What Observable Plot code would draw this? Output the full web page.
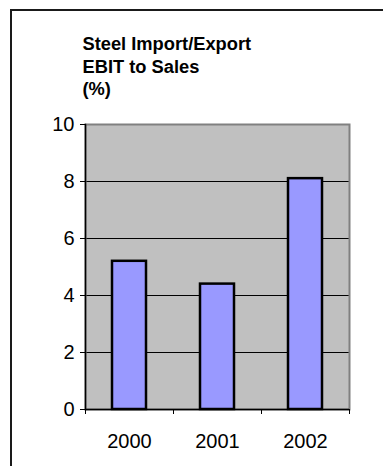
<!DOCTYPE html>
<html>
<head>
<meta charset="utf-8">
<script src="https://cdn.jsdelivr.net/npm/d3@7"></script>
<script src="https://cdn.jsdelivr.net/npm/@observablehq/plot@0.6"></script>
<style>
  html, body { margin: 0; padding: 0; background: #fff; }
  #wrap { position: relative; width: 383px; height: 466px; overflow: hidden; font-family: "Liberation Sans", Arial, sans-serif; }
  #box { position: absolute; left: 10px; top: 9px; width: 500px; height: 500px; border-left: 2px solid #1a1a1a; border-top: 2px solid #1a1a1a; box-sizing: border-box; }
  #chart { position: absolute; left: 0; top: 0; }
</style>
</head>
<body>
<div id="wrap"><div id="box"></div><div id="chart"></div></div>
<script>
const years = ["2000", "2001", "2002"];
const ebitToSales = [5.2, 4.4, 8.1];
const yTicks = [0, 2, 4, 6, 8, 10];
const gridValues = [2, 4, 6, 8];
const titleLines = ["Steel Import/Export", "EBIT to Sales", "(%)"];

const data = years.map((y, i) => ({year: y, value: ebitToSales[i]}));

const W = 383, H = 466;
const mL = 85, mR = 34, mT = 124, mB = 57;
const step = (W - mL - mR) / years.length;
const tickLen = 5 / ((H - mT - mB) / 10);

const chart = Plot.plot({
  width: W,
  height: H,
  marginLeft: mL,
  marginRight: mR,
  marginTop: mT,
  marginBottom: mB,
  style: {fontFamily: "'Liberation Sans', Arial, sans-serif", background: "transparent", overflow: "visible"},
  x: {type: "band", domain: years, padding: 0},
  y: {domain: [0, 10]},
  marks: [
    Plot.frame({fill: "#c0c0c0"}),
    Plot.ruleY(gridValues, {stroke: "#000", strokeWidth: 1}),
    Plot.frame({stroke: "#808080", strokeWidth: 2}),
    Plot.ruleY([0], {stroke: "#000", strokeWidth: 1.5}),
    Plot.frame({anchor: "left", stroke: "#000", strokeWidth: 1.5}),
    Plot.barY(data, {x: "year", y: "value", fill: "#9999ff", stroke: "#000", strokeWidth: 2.5, insetLeft: 27, insetRight: 27}),
    Plot.ruleX(years, {x: d => d, dx: -step / 2, y1: 0, y2: -tickLen, stroke: "#000", strokeWidth: 1}),
    Plot.ruleX(years.slice(-1), {x: d => d, dx: step / 2, y1: 0, y2: -tickLen, stroke: "#000", strokeWidth: 1}),
    Plot.axisY({ticks: yTicks, tickSize: 5, tickPadding: 6, fontSize: 20, tickFormat: d => String(d), label: null, color: "#000"}),
    Plot.axisX({tickSize: 0, tickPadding: 24, fontSize: 20, label: null, color: "#000"}),
    Plot.text([titleLines.join("\n")], {
      frameAnchor: "top-left", textAnchor: "start", lineAnchor: "top",
      dx: -3, dy: -90, fontSize: 18.3, fontWeight: "bold", lineHeight: 1.22, fill: "#000"
    })
  ]
});
document.getElementById("chart").appendChild(chart);
</script>
</body>
</html>
